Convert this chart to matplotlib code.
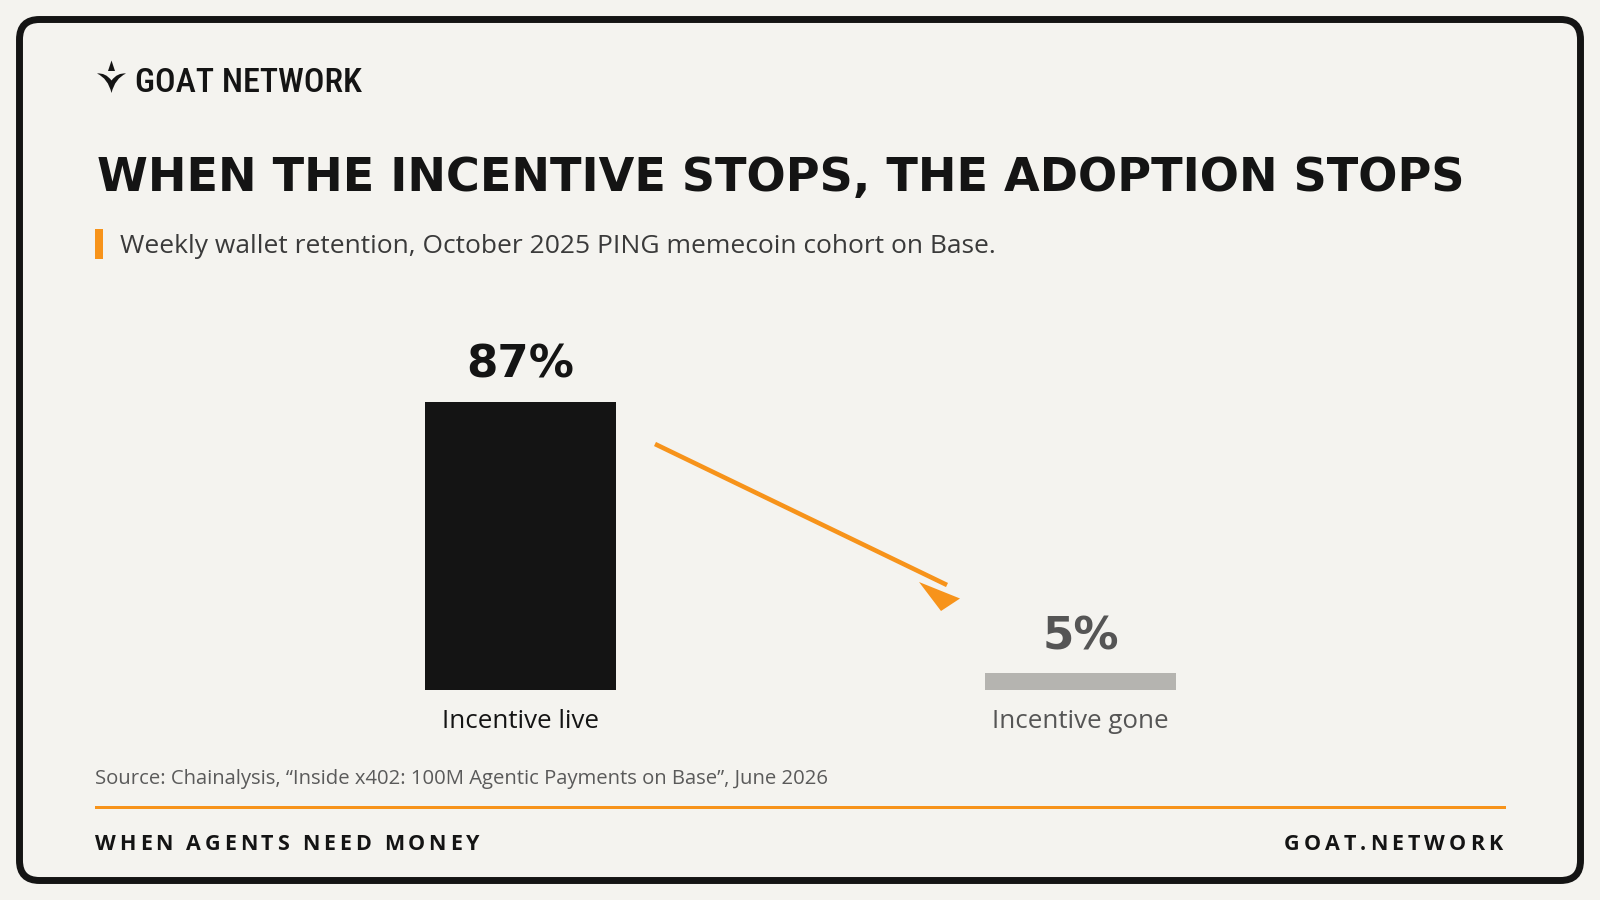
import matplotlib
matplotlib.use("Agg")
import numpy as np
import matplotlib.pyplot as plt
import matplotlib.font_manager as fm
from matplotlib.patches import FancyBboxPatch, Polygon, PathPatch, Rectangle
from matplotlib.path import Path

# ---------------- data ----------------
categories = ["Incentive live", "Incentive gone"]
retention = [87, 5]
value_labels = ["87%", "5%"]

title = "WHEN THE INCENTIVE STOPS, THE ADOPTION STOPS"
subtitle = "Weekly wallet retention, October 2025 PING memecoin cohort on Base."
source = "Source: Chainalysis, \u201cInside x402: 100M Agentic Payments on Base\u201d, June 2026"
footer_left = "WHEN AGENTS NEED MONEY"
footer_right = "GOAT.NETWORK"
brand = "GOAT NETWORK"

# ---------------- style ----------------
W, H = 1600, 900
BG = "#F4F3EF"
INK = "#141414"
ORANGE = "#F7931A"
GRAY_BAR = "#B5B4B0"
GRAY_TXT = "#555555"
bar_colors = [INK, GRAY_BAR]
label_colors = [INK, GRAY_TXT]

HEAVY = "DejaVu Sans"
BODY = "Open Sans"
installed = {f.name for f in fm.fontManager.ttflist}
LOGO = "Roboto"
LOGO_W = "medium"
for cand, wt in [("Roboto Condensed", "medium"), ("Liberation Sans Narrow", "bold"),
                 ("DejaVu Sans Condensed", "normal")]:
    if cand in installed:
        LOGO, LOGO_W = cand, wt
        break

fig = plt.figure(figsize=(16, 9), dpi=100)
fig.patch.set_facecolor(BG)
renderer = fig.canvas.get_renderer()

# full-figure overlay in pixel coordinates (y down)
bg = fig.add_axes([0, 0, 1, 1])
bg.set_xlim(0, W)
bg.set_ylim(H, 0)
bg.axis("off")
bg.set_facecolor("none")


def fit_text(ax, x, y, s, target_w, size=20, ha="left", **kw):
    t = ax.text(x, y, s, ha=ha, va="baseline", fontsize=size, **kw)
    w = t.get_window_extent(renderer).width
    t.set_fontsize(size * target_w / w)
    return t


def spaced_text(ax, s, x0, x1, y, size, **kw):
    fp = fm.FontProperties(size=size, family=kw.get("family"), weight=kw.get("fontweight"))

    def w(txt):
        return renderer.get_text_width_height_descent(txt, fp, ismath=False)[0]

    space_w = w("A A") - w("AA")
    chars = list(s)
    ink = sum(w(c) for c in chars if c != " ")
    nsp = chars.count(" ")
    gaps = len(chars) - 1
    g = ((x1 - x0) - ink - nsp * space_w) / gaps
    x = x0
    for c in chars:
        if c == " ":
            x += space_w + g
            continue
        ax.text(x, y, c, ha="left", va="baseline", fontsize=size, **kw)
        x += w(c) + g


# border
border = FancyBboxPatch((19.5, 19.5), W - 39, H - 39,
                        boxstyle="round,pad=0,rounding_size=20",
                        fc="none", ec=INK, lw=5.0, zorder=5)
bg.add_patch(border)

# logo mark
star_top = Polygon([(111.5, 60.5), (108, 71), (115, 71)], closed=True, fc=INK, ec="none")
bg.add_patch(star_top)
verts = [(97, 73.5), (105.5, 72.5), (111.5, 80.5), (117.5, 72.5), (126, 73.5),
         (115, 78.5), (111.5, 93), (108, 78.5), (97, 73.5), (97, 73.5)]
codes = [Path.MOVETO, Path.CURVE3, Path.CURVE3, Path.CURVE3, Path.CURVE3,
         Path.CURVE3, Path.CURVE3, Path.CURVE3, Path.CURVE3, Path.CLOSEPOLY]
bg.add_patch(PathPatch(Path(verts, codes), fc=INK, ec="none"))
fit_text(bg, 135, 92, brand, 227, family=LOGO, fontweight=LOGO_W, color=INK)

# title + subtitle
fit_text(bg, 97, 191, title, 1363, family=HEAVY, fontweight="bold", color=INK)
bg.add_patch(Rectangle((95, 229), 8, 30, fc=ORANGE, ec="none"))
fit_text(bg, 120, 253, subtitle, 873, family=BODY, color="#3a3a3a")

# bars
ax = fig.add_axes([95 / W, (H - 690) / H, (1506 - 95) / W, 331 / H])
ax.set_xlim(-0.7598, 1.7598)
ax.set_ylim(0, 100)
ax.axis("off")
ax.set_facecolor("none")
x = np.arange(len(categories))
ax.bar(x, retention, width=0.341, color=bar_colors, zorder=2)

# category label size: match reference width of first label (~156 px)
probe = ax.text(0, 0, categories[0], fontsize=20, family=BODY, fontweight="medium")
cat_size = 20 * 156 / probe.get_window_extent(renderer).width
probe.remove()

for i, (v, lbl, cat, c) in enumerate(zip(retention, value_labels, categories, label_colors)):
    ax.annotate(lbl, (x[i], v), xytext=(0, 17.6), textcoords="offset points",
                ha="center", va="baseline", fontsize=32.5, fontweight="bold",
                family=HEAVY, color=c, annotation_clip=False)
    ax.annotate(cat, (x[i], 0), xytext=(0, -27.4), textcoords="offset points",
                ha="center", va="baseline", fontsize=cat_size, fontweight="medium",
                family=BODY, color=c, annotation_clip=False)

# arrow
bg.plot([655, 947], [444, 585], color=ORANGE, lw=3.3, solid_capstyle="butt", zorder=3)
bg.add_patch(Polygon([(919, 582), (960, 598.5), (941, 611)], closed=True,
                     fc=ORANGE, ec="none", zorder=3))

# source
fit_text(bg, 95, 784, source, 731, family=BODY, color="#5a5a5a")

# rule
bg.add_patch(Rectangle((95, 805.5), 1411, 3.5, fc=ORANGE, ec="none"))

# footer
spaced_text(bg, footer_left, 95, 479, 850, 15.5, family=BODY, fontweight="bold", color=INK)
spaced_text(bg, footer_right, 1284, 1502, 850, 15.5, family=BODY, fontweight="bold", color=INK)

fig.savefig("out.png", dpi=100, facecolor=BG)
